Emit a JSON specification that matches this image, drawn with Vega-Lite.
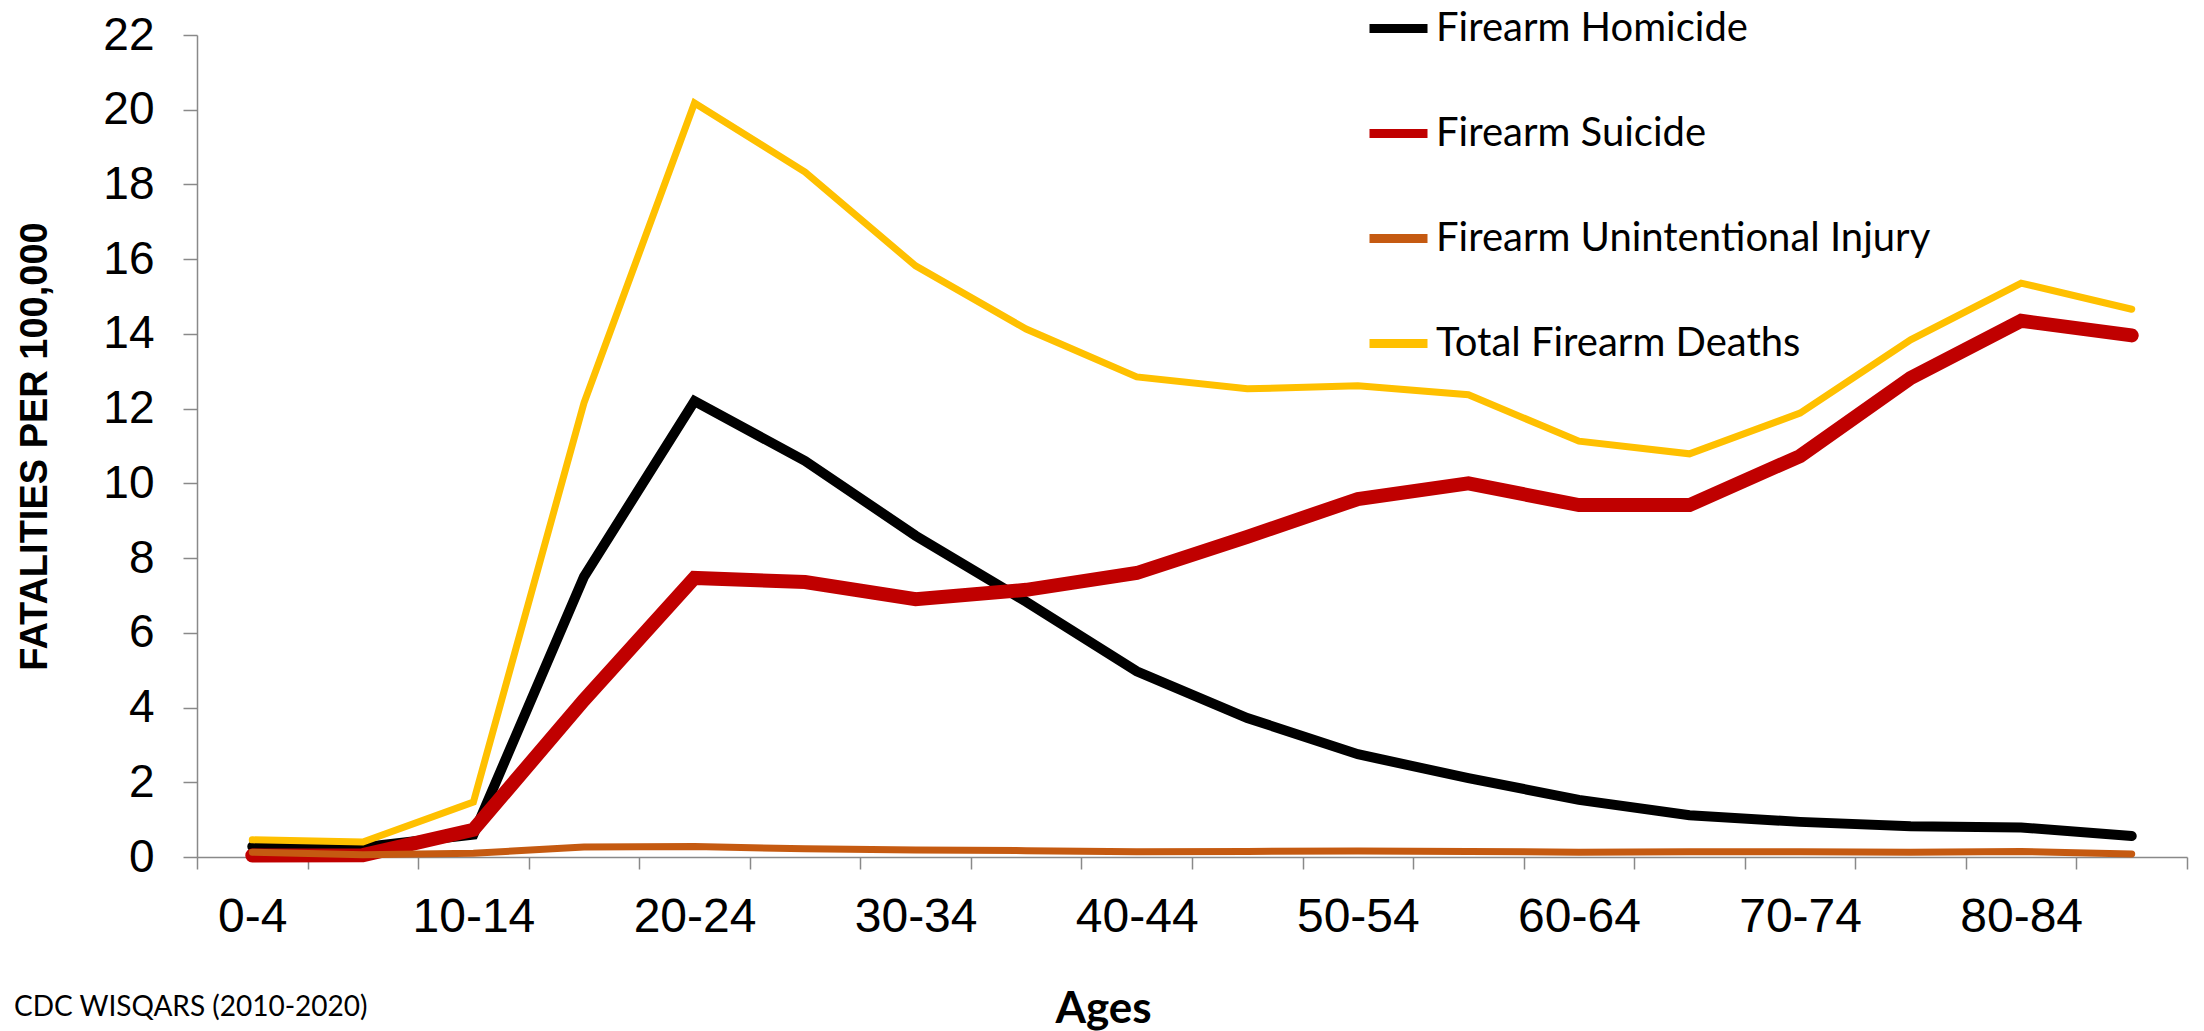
{
  "$schema": "https://vega.github.io/schema/vega-lite/v6.json",
  "width": 1990,
  "height": 822,
  "autosize": {"type": "none"},
  "padding": {"left": 197, "top": 35, "right": 17, "bottom": 174},
  "background": "white",
  "title": {
    "text": "CDC WISQARS (2010-2020)",
    "orient": "bottom",
    "anchor": "start",
    "frame": "group",
    "dx": -183,
    "offset": -37,
    "font": "Lato",
    "fontSize": 28,
    "fontWeight": "normal",
    "color": "#000000"
  },
  "config": {
    "view": {"stroke": null},
    "axis": {"grid": false}
  },
  "data": {
    "values": [
      {"age": "0-4", "series": "Firearm Homicide", "value": 0.28},
      {"age": "5-9", "series": "Firearm Homicide", "value": 0.26},
      {"age": "10-14", "series": "Firearm Homicide", "value": 0.6},
      {"age": "15-19", "series": "Firearm Homicide", "value": 7.5},
      {"age": "20-24", "series": "Firearm Homicide", "value": 12.2},
      {"age": "25-29", "series": "Firearm Homicide", "value": 10.6},
      {"age": "30-34", "series": "Firearm Homicide", "value": 8.6},
      {"age": "35-39", "series": "Firearm Homicide", "value": 6.83},
      {"age": "40-44", "series": "Firearm Homicide", "value": 4.97},
      {"age": "45-49", "series": "Firearm Homicide", "value": 3.72},
      {"age": "50-54", "series": "Firearm Homicide", "value": 2.75},
      {"age": "55-59", "series": "Firearm Homicide", "value": 2.11},
      {"age": "60-64", "series": "Firearm Homicide", "value": 1.53},
      {"age": "65-69", "series": "Firearm Homicide", "value": 1.12},
      {"age": "70-74", "series": "Firearm Homicide", "value": 0.94},
      {"age": "75-79", "series": "Firearm Homicide", "value": 0.82},
      {"age": "80-84", "series": "Firearm Homicide", "value": 0.79},
      {"age": "85+", "series": "Firearm Homicide", "value": 0.56},
      {"age": "0-4", "series": "Firearm Suicide", "value": 0.04},
      {"age": "5-9", "series": "Firearm Suicide", "value": 0.05},
      {"age": "10-14", "series": "Firearm Suicide", "value": 0.73},
      {"age": "15-19", "series": "Firearm Suicide", "value": 4.2},
      {"age": "20-24", "series": "Firearm Suicide", "value": 7.47},
      {"age": "25-29", "series": "Firearm Suicide", "value": 7.36},
      {"age": "30-34", "series": "Firearm Suicide", "value": 6.9},
      {"age": "35-39", "series": "Firearm Suicide", "value": 7.15},
      {"age": "40-44", "series": "Firearm Suicide", "value": 7.6},
      {"age": "45-49", "series": "Firearm Suicide", "value": 8.57},
      {"age": "50-54", "series": "Firearm Suicide", "value": 9.58},
      {"age": "55-59", "series": "Firearm Suicide", "value": 10.0},
      {"age": "60-64", "series": "Firearm Suicide", "value": 9.42},
      {"age": "65-69", "series": "Firearm Suicide", "value": 9.42},
      {"age": "70-74", "series": "Firearm Suicide", "value": 10.73},
      {"age": "75-79", "series": "Firearm Suicide", "value": 12.82},
      {"age": "80-84", "series": "Firearm Suicide", "value": 14.35},
      {"age": "85+", "series": "Firearm Suicide", "value": 13.96},
      {"age": "0-4", "series": "Firearm Unintentional Injury", "value": 0.13},
      {"age": "5-9", "series": "Firearm Unintentional Injury", "value": 0.06},
      {"age": "10-14", "series": "Firearm Unintentional Injury", "value": 0.1},
      {"age": "15-19", "series": "Firearm Unintentional Injury", "value": 0.27},
      {"age": "20-24", "series": "Firearm Unintentional Injury", "value": 0.28},
      {"age": "25-29", "series": "Firearm Unintentional Injury", "value": 0.22},
      {"age": "30-34", "series": "Firearm Unintentional Injury", "value": 0.19},
      {"age": "35-39", "series": "Firearm Unintentional Injury", "value": 0.17},
      {"age": "40-44", "series": "Firearm Unintentional Injury", "value": 0.14},
      {"age": "45-49", "series": "Firearm Unintentional Injury", "value": 0.15},
      {"age": "50-54", "series": "Firearm Unintentional Injury", "value": 0.16},
      {"age": "55-59", "series": "Firearm Unintentional Injury", "value": 0.15},
      {"age": "60-64", "series": "Firearm Unintentional Injury", "value": 0.13},
      {"age": "65-69", "series": "Firearm Unintentional Injury", "value": 0.14},
      {"age": "70-74", "series": "Firearm Unintentional Injury", "value": 0.14},
      {"age": "75-79", "series": "Firearm Unintentional Injury", "value": 0.13},
      {"age": "80-84", "series": "Firearm Unintentional Injury", "value": 0.15},
      {"age": "85+", "series": "Firearm Unintentional Injury", "value": 0.08},
      {"age": "0-4", "series": "Total Firearm Deaths", "value": 0.46},
      {"age": "5-9", "series": "Total Firearm Deaths", "value": 0.4},
      {"age": "10-14", "series": "Total Firearm Deaths", "value": 1.47},
      {"age": "15-19", "series": "Total Firearm Deaths", "value": 12.15},
      {"age": "20-24", "series": "Total Firearm Deaths", "value": 20.18},
      {"age": "25-29", "series": "Total Firearm Deaths", "value": 18.33},
      {"age": "30-34", "series": "Total Firearm Deaths", "value": 15.82},
      {"age": "35-39", "series": "Total Firearm Deaths", "value": 14.13},
      {"age": "40-44", "series": "Total Firearm Deaths", "value": 12.85},
      {"age": "45-49", "series": "Total Firearm Deaths", "value": 12.53},
      {"age": "50-54", "series": "Total Firearm Deaths", "value": 12.61},
      {"age": "55-59", "series": "Total Firearm Deaths", "value": 12.37},
      {"age": "60-64", "series": "Total Firearm Deaths", "value": 11.13},
      {"age": "65-69", "series": "Total Firearm Deaths", "value": 10.79},
      {"age": "70-74", "series": "Total Firearm Deaths", "value": 11.88},
      {"age": "75-79", "series": "Total Firearm Deaths", "value": 13.84},
      {"age": "80-84", "series": "Total Firearm Deaths", "value": 15.36},
      {"age": "85+", "series": "Total Firearm Deaths", "value": 14.66}
    ]
  },
  "encoding": {
    "x": {
      "field": "age",
      "type": "nominal",
      "sort": null,
      "bandPosition": 0.5,
      "scale": {"type": "band", "paddingInner": 0, "paddingOuter": 0},
      "axis": {
        "title": "Ages",
        "titleFont": "Lato",
        "titleFontSize": 44,
        "titleFontWeight": "bold",
        "titleColor": "#000000",
        "titleX": 906,
        "titleY": 152,
        "titleBaseline": "middle",
        "labelAngle": 0,
        "labelExpr": "indexof(['0-4','10-14','20-24','30-34','40-44','50-54','60-64','70-74','80-84'], datum.value) >= 0 ? datum.value : ''",
        "labelFont": "Liberation Sans",
        "labelFontSize": 48,
        "labelColor": "#000000",
        "labelPadding": 24,
        "tickBand": "extent",
        "tickSize": 12,
        "tickColor": "#898989",
        "tickWidth": 1.5,
        "domainColor": "#898989",
        "domainWidth": 1.5
      }
    },
    "y": {
      "field": "value",
      "type": "quantitative",
      "scale": {"domain": [0, 22], "nice": false, "zero": true},
      "axis": {
        "title": "FATALITIES PER 100,000",
        "titleFont": "Liberation Sans",
        "titleFontSize": 38,
        "titleFontWeight": "bold",
        "titleColor": "#000000",
        "titleX": -162,
        "titleY": 411,
        "titleAngle": -90,
        "titleBaseline": "middle",
        "titleAlign": "center",
        "values": [0, 2, 4, 6, 8, 10, 12, 14, 16, 18, 20, 22],
        "labelFont": "Liberation Sans",
        "labelFontSize": 46,
        "labelColor": "#000000",
        "labelPadding": 29,
        "tickSize": 14,
        "tickColor": "#898989",
        "tickWidth": 1.5,
        "domainColor": "#898989",
        "domainWidth": 1.5
      }
    },
    "color": {
      "field": "series",
      "type": "nominal",
      "scale": {
        "domain": ["Firearm Homicide", "Firearm Suicide", "Firearm Unintentional Injury", "Total Firearm Deaths"],
        "range": ["#000000", "#C00000", "#C55A11", "#FFC000"]
      },
      "legend": {
        "orient": "none",
        "legendX": 1168,
        "legendY": -40,
        "title": null,
        "symbolType": "stroke",
        "symbolSize": 3364,
        "symbolStrokeWidth": 9,
        "labelFont": "Lato",
        "labelFontSize": 40,
        "labelColor": "#000000",
        "labelOffset": 4,
        "labelLimit": 700,
        "rowPadding": 51,
        "padding": 0
      }
    }
  },
  "layer": [
    {
      "transform": [{"filter": "datum.series == 'Firearm Homicide'"}],
      "mark": {"type": "line", "strokeWidth": 10, "strokeCap": "round"},
      "encoding": {}
    },
    {
      "transform": [{"filter": "datum.series == 'Firearm Suicide'"}],
      "mark": {"type": "line", "strokeWidth": 14, "strokeCap": "round"},
      "encoding": {}
    },
    {
      "transform": [{"filter": "datum.series == 'Firearm Unintentional Injury'"}],
      "mark": {"type": "line", "strokeWidth": 7, "strokeCap": "round"},
      "encoding": {}
    },
    {
      "transform": [{"filter": "datum.series == 'Total Firearm Deaths'"}],
      "mark": {"type": "line", "strokeWidth": 7, "strokeCap": "round"},
      "encoding": {}
    }
  ]
}
